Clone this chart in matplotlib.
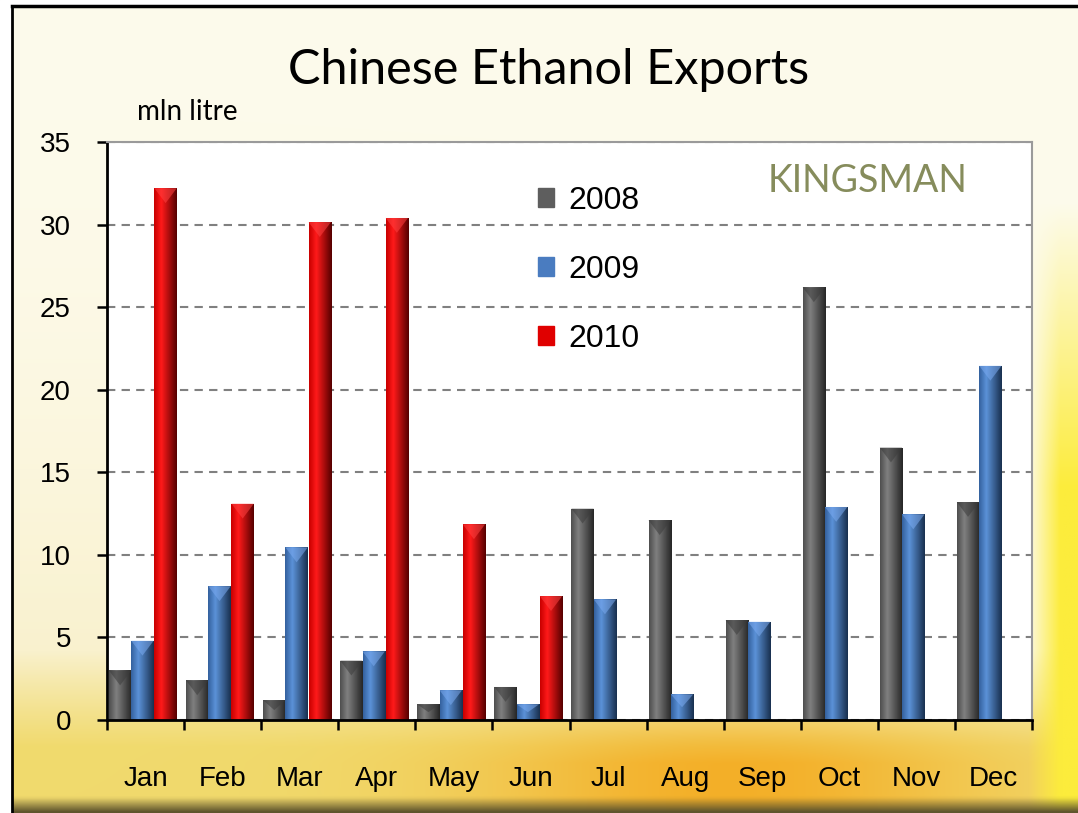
import numpy as np
import matplotlib
matplotlib.use("Agg")
import matplotlib.pyplot as plt
from matplotlib.colors import LinearSegmentedColormap
from matplotlib.patches import Polygon, Rectangle
from matplotlib.lines import Line2D

plt.rcParams['font.family'] = ['Liberation Sans', 'DejaVu Sans']

# Values (mln litre)
months = ['Jan', 'Feb', 'Mar', 'Apr', 'May', 'Jun',
          'Jul', 'Aug', 'Sep', 'Oct', 'Nov', 'Dec']
years = ['2008', '2009', '2010']
exports_2008 = [3.0, 2.4, 1.2, 3.6, 0.95, 2.0, 12.8, 12.1, 6.05, 26.2, 16.5, 13.2]
exports_2009 = [4.8, 8.1, 10.45, 4.15, 1.8, 0.95, 7.3, 1.55, 5.95, 12.9, 12.45, 21.45]
exports_2010 = [32.2, 13.1, 30.15, 30.4, 11.85, 7.5,
                np.nan, np.nan, np.nan, np.nan, np.nan, np.nan]
y_ticks = [0, 5, 10, 15, 20, 25, 30, 35]

series = [exports_2008, exports_2009, exports_2010]
base_colors = ['#5e5e5e', '#4a7cc0', '#e00000']
# left, highlight, right shading of the column gradient
shades = [('#4e4e4e', '#808080', '#262626'),
          ('#34619e', '#5b92d8', '#19304f'),
          ('#c80000', '#ff1a1a', '#560000')]
bevel_colors = ['#3c3c3c', '#7aaaf0', '#ff4040']
offsets = [-0.33, -0.04, 0.26]
bar_w = 0.29

W, H = 1078, 813
fig = plt.figure(figsize=(W / 100, H / 100), dpi=100)

# ---- background (cream -> yellow/orange) ----
bg = fig.add_axes([0, 0, 1, 1], zorder=-10)
bg.set_axis_off()
gx, gy = np.meshgrid(np.linspace(0, 1, 400), np.linspace(0, 1, 300))
def blend(img, col, f):
    col = np.array(col, dtype=float) / 255
    return img * (1 - f[..., None]) + col * f[..., None]
img = np.ones((300, 400, 3)) * np.array([253, 251, 236]) / 255
img = blend(img, (247, 236, 190), np.clip(gy, 0, 1) ** 2 * np.clip(1.2 - gx, 0, 1))
img = blend(img, (240, 216, 100), np.clip((gy - 0.80) / 0.12, 0, 1) * 0.9)
orange = np.exp(-((gx - 0.68) / 0.24) ** 2) * np.clip((gy - 0.86) / 0.08, 0, 1)
img = blend(img, (244, 168, 28), 0.85 * orange)
right = np.clip((gx - 0.955) / 0.03, 0, 1) * np.clip((gy - 0.25) / 0.35, 0, 1)
img = blend(img, (252, 236, 60), right)
img = blend(img, (95, 85, 45), np.clip((gy - 0.982) / 0.018, 0, 1))
bg.imshow(img, extent=(0, 1, 0, 1), aspect='auto', interpolation='bilinear')
bg.set_xlim(0, 1)
bg.set_ylim(0, 1)
# white margin and black frame line
bg.add_patch(Rectangle((0, 0), 11 / W, 1, color='white', zorder=2))
bg.add_patch(Rectangle((0, 1 - 5 / H), 1, 5 / H, color='white', zorder=2))
bg.add_line(Line2D([12 / W, 12 / W], [0, 1 - 6 / H], color='black', lw=2, zorder=3))
bg.add_line(Line2D([12 / W, 1], [1 - 6 / H, 1 - 6 / H], color='black', lw=2.5, zorder=3))

# ---- main chart ----
ax = fig.add_axes([107 / W, 1 - 720 / H, 925 / W, 578 / H])
ax.set_facecolor('white')
ax.set_axisbelow(True)

x = np.arange(len(months))
for vals, off, col, sh, bev in zip(series, offsets, base_colors, shades, bevel_colors):
    bars = ax.bar(x + off, vals, width=bar_w, color=col, zorder=2)
    cmap = LinearSegmentedColormap.from_list('s', [(0, sh[0]), (0.32, sh[1]), (1, sh[2])])
    grad = np.linspace(0, 1, 64).reshape(1, -1)
    for rect in bars:
        h = rect.get_height()
        if not np.isfinite(h) or h <= 0:
            continue
        x0, w = rect.get_x(), rect.get_width()
        im = ax.imshow(grad, extent=(x0, x0 + w, 0, h), aspect='auto',
                       cmap=cmap, origin='lower', zorder=2.1, interpolation='bilinear')
        im.set_clip_path(rect)
        d = min(0.9, h * 0.5)
        ax.add_patch(Polygon([(x0, h), (x0 + w, h), (x0 + w / 2, h - d)],
                             closed=True, color=bev, alpha=0.55, lw=0, zorder=2.2))

ax.set_xlim(-0.5, 11.5)
ax.set_ylim(0, 35)

# grid + spines
ax.yaxis.grid(True, color='#808080', lw=1.5, linestyle=(0, (4, 3)))
ax.xaxis.grid(False)
for s in ['left', 'bottom']:
    ax.spines[s].set_color('black')
    ax.spines[s].set_linewidth(2)
for s in ['top', 'right']:
    ax.spines[s].set_color('#9a9a9a')
    ax.spines[s].set_linewidth(1.5)

ax.set_yticks(y_ticks)
ax.tick_params(axis='y', direction='out', length=7, width=1.8, pad=19, labelsize=20)
ax.set_xticks(np.arange(-0.5, 12, 1))
ax.set_xticklabels([])
ax.set_xticks(x, minor=True)
ax.set_xticklabels(months, minor=True, fontsize=20)
ax.tick_params(axis='x', which='major', direction='out', length=7, width=1.8)
ax.tick_params(axis='x', which='minor', length=0, pad=33)

# legend
handles = [Rectangle((0, 0), 1, 1, color=c) for c in base_colors]
ax.legend(handles, years, loc='upper left', bbox_to_anchor=(0.466, 0.924),
          frameon=False, borderpad=0, borderaxespad=0, fontsize=23,
          handlelength=0.5, handleheight=0.5, handletextpad=0.45,
          labelspacing=1.22)

# texts
fig.text(549 / W, 1 - 70 / H, 'Chinese Ethanol Exports', ha='center', va='center',
         fontsize=35, family='Lato')
fig.text(137 / W, 1 - 112 / H, 'mln litre', ha='left', va='center',
         fontsize=20, family='Lato')
ax.text(0.822, 0.933, 'KINGSMAN', transform=ax.transAxes, ha='center', va='center',
        fontsize=27, family='Lato', color='#868c5c')

fig.savefig('out.png', dpi=100)
